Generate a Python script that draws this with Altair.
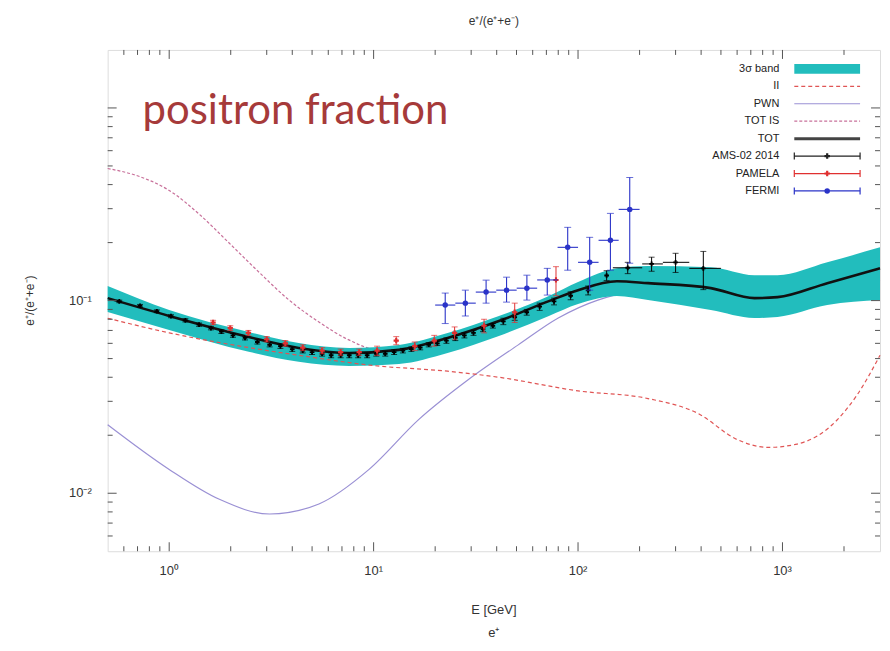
import altair as alt
import pandas as pd

# ---------------- data ----------------
band_E   = [0.5, 1, 2.45, 4.3, 7.6, 13.3, 23, 41, 72, 100, 155, 220, 446, 730, 946, 1656, 3000]
band_tot = [0.103, 0.0832, 0.0647, 0.0568, 0.0535, 0.0555, 0.0640, 0.0783, 0.0994, 0.1133, 0.126, 0.1232, 0.1161, 0.1030, 0.1042, 0.1232, 0.147]
band_hi  = [0.119, 0.0893, 0.0687, 0.0603, 0.0568, 0.0589, 0.0679, 0.0832, 0.1055, 0.1247, 0.147, 0.151, 0.149, 0.1355, 0.1355, 0.158, 0.189]
band_lo  = [0.0872, 0.0704, 0.0542, 0.0481, 0.0458, 0.0469, 0.0535, 0.0655, 0.0832, 0.0959, 0.1055, 0.1006, 0.0893, 0.0812, 0.0822, 0.0948, 0.1006]

ii_E = [0.5, 1, 2.46, 4.3, 10, 23, 41, 100, 220, 385, 600, 850, 1180, 1850, 2300, 3000]
ii_v = [0.081, 0.068, 0.057, 0.052, 0.046, 0.043, 0.040, 0.034, 0.031, 0.026, 0.019, 0.0173, 0.018, 0.024, 0.032, 0.052]

pwn_E = [0.5, 1, 1.76, 3.1, 5.4, 9.5, 16.6, 29, 51, 80, 125, 175, 250, 400, 700, 1000, 1800, 3000]
pwn_v = [0.0227, 0.0133, 0.0093, 0.0078, 0.0088, 0.0133, 0.0241, 0.0388, 0.0589, 0.0812, 0.1006, 0.110, 0.113, 0.108, 0.097, 0.097, 0.112, 0.128]

tis_E = [0.5, 0.716, 1.0, 1.405, 1.97, 2.75, 3.86, 5.4, 7.57, 10.6, 15, 23, 41, 72, 100, 155, 220, 446, 730, 946, 1656, 3000]
tis_v = [0.485, 0.4405, 0.373, 0.2803, 0.1984, 0.1404, 0.1006, 0.0774, 0.0625, 0.0555, 0.0560, 0.0640, 0.0783, 0.0994, 0.1133, 0.126, 0.1232, 0.1161, 0.1030, 0.1042, 0.1232, 0.147]

ams_E = [0.57, 0.72, 0.87, 1.02, 1.2, 1.4, 1.6, 1.8, 2.05, 2.35, 2.7, 3.1, 3.5, 4.0, 4.5,
         5.0, 5.6, 6.2, 6.9, 7.6, 8.4, 9.3, 10.3, 11.4, 12.6, 13.9, 15.3, 16.9, 18.6, 20.5,
         22.7, 25.1, 27.8, 30.8, 34.3, 38.3, 43.1, 49.0, 56.1, 64.9, 76.3, 92.0, 112, 138, 175,
         229, 300, 410]
ams_v = [0.099, 0.094, 0.088, 0.083, 0.079, 0.075, 0.072, 0.069, 0.066, 0.064, 0.061, 0.059, 0.058, 0.056, 0.055,
         0.054, 0.053, 0.052, 0.052, 0.052, 0.052, 0.052, 0.053, 0.053, 0.054, 0.055, 0.056, 0.057, 0.059, 0.060,
         0.062, 0.064, 0.066, 0.068, 0.071, 0.074, 0.078, 0.082, 0.087, 0.093, 0.099, 0.106, 0.113, 0.135, 0.148,
         0.155, 0.158, 0.147]
ams_err = [0.0015, 0.0015, 0.0015, 0.0015, 0.0015, 0.0015, 0.0015, 0.0015, 0.0015, 0.0015, 0.0015, 0.0015, 0.0015, 0.0015, 0.0015,
           0.0015, 0.0015, 0.0015, 0.0015, 0.0015, 0.0015, 0.0015, 0.0015, 0.0015, 0.0015, 0.0015, 0.0015, 0.0015, 0.0015, 0.0015,
           0.002, 0.002, 0.002, 0.002, 0.002, 0.002, 0.003, 0.003, 0.003, 0.004, 0.004, 0.005, 0.006, 0.008, 0.010,
           0.013, 0.018, 0.033]
ams_binE  = [175, 229, 300, 410]
ams_binLo = [148, 206, 260, 350]
ams_binHi = [206, 260, 350, 500]
ams_binV  = [0.148, 0.155, 0.158, 0.147]

pam_E = [1.64, 1.99, 2.44, 3.0, 3.7, 4.5, 5.6, 6.9, 8.5, 10.4, 12.9, 15.9, 19.8, 24.9, 34.7, 49.0, 78.0]
pam_v = [0.077, 0.072, 0.068, 0.063, 0.060, 0.057, 0.055, 0.054, 0.054, 0.055, 0.062, 0.058, 0.062, 0.068, 0.074, 0.087, 0.128]
pam_err = [0.002, 0.002, 0.002, 0.002, 0.002, 0.002, 0.002, 0.002, 0.002, 0.003, 0.003, 0.003, 0.004, 0.005, 0.006, 0.010, 0.022]

fermi_E   = [22.4, 28.1, 35.5, 44.7, 56.2, 70.7, 89, 114, 144, 179]
fermi_v   = [0.0948, 0.097, 0.1107, 0.1133, 0.116, 0.128, 0.189, 0.158, 0.2056, 0.2975]
fermi_lo  = [0.076, 0.0832, 0.097, 0.0982, 0.1006, 0.1068, 0.1438, 0.1133, 0.1438, 0.1563]
fermi_hi  = [0.1094, 0.1133, 0.1277, 0.1323, 0.1355, 0.147, 0.240, 0.213, 0.2836, 0.4355]
fermi_Elo = [20, 25.1, 31.6, 39.8, 50.1, 63.1, 79.4, 100, 126, 158]
fermi_Ehi = [25.1, 31.6, 39.8, 50.1, 63.1, 79.4, 100, 126, 158, 200]

x_major = [1, 10, 100, 1000]
x_labels = ["10⁰", "10¹", "10²", "10³"]
x_minor = [0.6, 0.7, 0.8, 0.9, 2, 3, 4, 5, 6, 7, 8, 9, 20, 30, 40, 50, 60, 70, 80, 90,
           200, 300, 400, 500, 600, 700, 800, 900, 2000]
y_major = [0.01, 0.1, 1]
y_label_vals = [0.01, 0.1]
y_labels = ["10⁻²", "10⁻¹"]
y_minor = [0.006, 0.007, 0.008, 0.009, 0.02, 0.03, 0.04, 0.05, 0.06, 0.07, 0.08, 0.09,
           0.2, 0.3, 0.4, 0.5, 0.6, 0.7, 0.8, 0.9]

legend_labels = ["3σ band", "II", "PWN", "TOT IS", "TOT", "AMS-02 2014", "PAMELA", "FERMI"]

# ---------------- styling ----------------
W, H = 775, 503
FONT = "Liberation Sans"
C_BAND = "#22bdbd"
C_II = "#e05555"
C_PWN = "#9a90d4"
C_TIS = "#c8709a"
C_TOT = "#111111"
C_PAM = "#e03030"
C_FERMI = "#2a33c8"
C_FRAME = "#555555"
C_TXT = "#333333"

xs = alt.Scale(type="log", domain=[0.5, 3000], nice=False)
ys = alt.Scale(type="log", domain=[0.005, 2], nice=False)


def X(f):
    return alt.X(f, type="quantitative", scale=xs, axis=None)


def Y(f):
    return alt.Y(f, type="quantitative", scale=ys, axis=None)


band_df = pd.DataFrame({"E": band_E, "tot": band_tot, "lo": band_lo, "hi": band_hi})
ii_df = pd.DataFrame({"E": ii_E, "v": ii_v})
pwn_df = pd.DataFrame({"E": pwn_E, "v": pwn_v})
tis_df = pd.DataFrame({"E": tis_E, "v": tis_v})
ams_df = pd.DataFrame({"E": ams_E, "v": ams_v, "err": ams_err})
ams_df["lo"] = ams_df["v"] - ams_df["err"]
ams_df["hi"] = ams_df["v"] + ams_df["err"]
amsbin_df = pd.DataFrame({"E": ams_binE, "v": ams_binV, "Elo": ams_binLo, "Ehi": ams_binHi})
pam_df = pd.DataFrame({"E": pam_E, "v": pam_v, "err": pam_err})
pam_df["lo"] = pam_df["v"] - pam_df["err"]
pam_df["hi"] = pam_df["v"] + pam_df["err"]
fermi_df = pd.DataFrame({"E": fermi_E, "v": fermi_v, "lo": fermi_lo, "hi": fermi_hi,
                         "Elo": fermi_Elo, "Ehi": fermi_Ehi})

band = alt.Chart(band_df).mark_area(color=C_BAND, opacity=1, interpolate="monotone").encode(
    x=X("E"), y=Y("lo"), y2="hi")

ii_line = alt.Chart(ii_df).mark_line(color=C_II, strokeWidth=1.2, strokeDash=[4, 3],
                                     interpolate="monotone").encode(x=X("E"), y=Y("v"))
pwn_line = alt.Chart(pwn_df).mark_line(color=C_PWN, strokeWidth=1.2,
                                       interpolate="monotone").encode(x=X("E"), y=Y("v"))
tis_line = alt.Chart(tis_df).mark_line(color=C_TIS, strokeWidth=1.2, strokeDash=[3, 2],
                                       interpolate="monotone").encode(x=X("E"), y=Y("v"))
tot_line = alt.Chart(band_df).mark_line(color=C_TOT, strokeWidth=2.6,
                                        interpolate="monotone").encode(x=X("E"), y=Y("tot"))

# data sets
ams_bar = alt.Chart(ams_df).mark_rule(color="black", strokeWidth=1).encode(x=X("E"), y=Y("lo"), y2="hi")
ams_cap_lo = alt.Chart(ams_df).mark_tick(color="black", orient="horizontal", size=6, thickness=1).encode(x=X("E"), y=Y("lo"))
ams_cap_hi = alt.Chart(ams_df).mark_tick(color="black", orient="horizontal", size=6, thickness=1).encode(x=X("E"), y=Y("hi"))
ams_hbar = alt.Chart(amsbin_df).mark_rule(color="black", strokeWidth=1).encode(x=X("Elo"), x2="Ehi", y=Y("v"))
ams_pt = alt.Chart(ams_df).mark_point(shape="cross", filled=True, size=22, color="black", opacity=1).encode(x=X("E"), y=Y("v"))

pam_bar = alt.Chart(pam_df).mark_rule(color=C_PAM, strokeWidth=1).encode(x=X("E"), y=Y("lo"), y2="hi")
pam_cap_lo = alt.Chart(pam_df).mark_tick(color=C_PAM, orient="horizontal", size=6, thickness=1).encode(x=X("E"), y=Y("lo"))
pam_cap_hi = alt.Chart(pam_df).mark_tick(color=C_PAM, orient="horizontal", size=6, thickness=1).encode(x=X("E"), y=Y("hi"))
pam_pt = alt.Chart(pam_df).mark_point(shape="cross", filled=True, size=28, color=C_PAM, opacity=1).encode(x=X("E"), y=Y("v"))

fer_bar = alt.Chart(fermi_df).mark_rule(color=C_FERMI, strokeWidth=1.1).encode(x=X("E"), y=Y("lo"), y2="hi")
fer_cap_lo = alt.Chart(fermi_df).mark_tick(color=C_FERMI, orient="horizontal", size=7, thickness=1).encode(x=X("E"), y=Y("lo"))
fer_cap_hi = alt.Chart(fermi_df).mark_tick(color=C_FERMI, orient="horizontal", size=7, thickness=1).encode(x=X("E"), y=Y("hi"))
fer_hbar = alt.Chart(fermi_df).mark_rule(color=C_FERMI, strokeWidth=1.1).encode(x=X("Elo"), x2="Ehi", y=Y("v"))
fer_pt = alt.Chart(fermi_df).mark_point(shape="circle", filled=True, size=30, color=C_FERMI, opacity=1).encode(x=X("E"), y=Y("v"))

# inward ticks on all four sides
xmaj_df = pd.DataFrame({"t": x_major})
xmin_df = pd.DataFrame({"t": x_minor})
ymaj_df = pd.DataFrame({"t": y_major})
ymin_df = pd.DataFrame({"t": y_minor})
MAJ, MIN = 9, 5
tick_layers = []
for df, ln in ((xmaj_df, MAJ), (xmin_df, MIN)):
    tick_layers.append(alt.Chart(df).mark_rule(color=C_FRAME, strokeWidth=1).encode(
        x=X("t"), y=alt.value(H), y2=alt.value(H - ln)))
    tick_layers.append(alt.Chart(df).mark_rule(color=C_FRAME, strokeWidth=1).encode(
        x=X("t"), y=alt.value(0), y2=alt.value(ln)))
for df, ln in ((ymaj_df, MAJ), (ymin_df, MIN)):
    tick_layers.append(alt.Chart(df).mark_rule(color=C_FRAME, strokeWidth=1).encode(
        y=Y("t"), x=alt.value(0), x2=alt.value(ln)))
    tick_layers.append(alt.Chart(df).mark_rule(color=C_FRAME, strokeWidth=1).encode(
        y=Y("t"), x=alt.value(W), x2=alt.value(W - ln)))

# tick labels placed through the scales
xlab = alt.Chart(pd.DataFrame({"t": x_major, "s": x_labels})).mark_text(
    align="center", baseline="middle", font=FONT, fontSize=13, color=C_TXT).encode(
    x=X("t"), y=alt.value(H + 20), text="s:N")
ylab = alt.Chart(pd.DataFrame({"t": y_label_vals, "s": y_labels})).mark_text(
    align="right", baseline="middle", font=FONT, fontSize=13, color=C_TXT).encode(
    y=Y("t"), x=alt.value(-16), text="s:N")

# legend (top right, gnuplot style)
LX_TEXT, LX0, LX1 = 674, 689, 755
LXM = (LX0 + LX1) / 2
legend_layers = []
for i, lab in enumerate(legend_labels):
    ry = 19 + i * 17.5
    one = pd.DataFrame({"label": [lab]})
    legend_layers.append(alt.Chart(one).mark_text(align="right", baseline="middle", font=FONT,
                                                  fontSize=11, color="#222222").encode(
        x=alt.value(LX_TEXT), y=alt.value(ry), text="label:N"))
    if lab == "3σ band":
        legend_layers.append(alt.Chart(one).mark_rect(color=C_BAND).encode(
            x=alt.value(LX0), x2=alt.value(LX1), y=alt.value(ry - 5), y2=alt.value(ry + 5)))
    elif lab == "II":
        legend_layers.append(alt.Chart(one).mark_rule(color=C_II, strokeWidth=1.2, strokeDash=[4, 3]).encode(
            x=alt.value(LX0), x2=alt.value(LX1), y=alt.value(ry)))
    elif lab == "PWN":
        legend_layers.append(alt.Chart(one).mark_rule(color=C_PWN, strokeWidth=1.2).encode(
            x=alt.value(LX0), x2=alt.value(LX1), y=alt.value(ry)))
    elif lab == "TOT IS":
        legend_layers.append(alt.Chart(one).mark_rule(color=C_TIS, strokeWidth=1.2, strokeDash=[3, 2]).encode(
            x=alt.value(LX0), x2=alt.value(LX1), y=alt.value(ry)))
    elif lab == "TOT":
        legend_layers.append(alt.Chart(one).mark_rule(color="#444444", strokeWidth=3).encode(
            x=alt.value(LX0), x2=alt.value(LX1), y=alt.value(ry)))
    else:
        col = {"AMS-02 2014": "#222222", "PAMELA": C_PAM, "FERMI": C_FERMI}[lab]
        legend_layers.append(alt.Chart(one).mark_rule(color=col, strokeWidth=1.2).encode(
            x=alt.value(LX0), x2=alt.value(LX1), y=alt.value(ry)))
        for cx in (LX0, LX1):
            legend_layers.append(alt.Chart(one).mark_rule(color=col, strokeWidth=1.2).encode(
                x=alt.value(cx), y=alt.value(ry - 3.5), y2=alt.value(ry + 3.5)))
        shape = "circle" if lab == "FERMI" else "cross"
        legend_layers.append(alt.Chart(one).mark_point(shape=shape, filled=True, size=30, color=col, opacity=1).encode(
            x=alt.value(LXM), y=alt.value(ry)))

# texts
txt = pd.DataFrame({"s": ["positron fraction"]})
annot = alt.Chart(txt).mark_text(align="left", baseline="alphabetic", font="Lato", fontSize=42,
                                 color="#a63a3a").encode(x=alt.value(35), y=alt.value(74), text="s:N")
top_title = alt.Chart(pd.DataFrame({"s": ["e⁺/(e⁺+e⁻)"]})).mark_text(
    align="center", baseline="middle", font=FONT, fontSize=12, color=C_TXT).encode(
    x=alt.value(W / 2), y=alt.value(-29), text="s:N")
y_title = alt.Chart(pd.DataFrame({"s": ["e⁺/(e⁺+e⁻)"]})).mark_text(
    align="center", baseline="middle", font=FONT, fontSize=12, color=C_TXT, angle=270).encode(
    x=alt.value(-78), y=alt.value(H / 2), text="s:N")
x_title1 = alt.Chart(pd.DataFrame({"s": ["E [GeV]"]})).mark_text(
    align="center", baseline="middle", font=FONT, fontSize=13, color=C_TXT).encode(
    x=alt.value(W / 2), y=alt.value(562), text="s:N")
x_title2 = alt.Chart(pd.DataFrame({"s": ["e⁺"]})).mark_text(
    align="center", baseline="middle", font=FONT, fontSize=13, color=C_TXT).encode(
    x=alt.value(W / 2), y=alt.value(585), text="s:N")

layers = [pwn_line, tis_line, band, ii_line, tot_line,
          ams_bar, ams_cap_lo, ams_cap_hi, ams_hbar, ams_pt,
          pam_bar, pam_cap_lo, pam_cap_hi, pam_pt,
          fer_bar, fer_cap_lo, fer_cap_hi, fer_hbar, fer_pt,
          annot, top_title, y_title, x_title1, x_title2, xlab, ylab] + tick_layers + legend_layers

chart = alt.layer(*layers).properties(
    width=W, height=H,
    autosize=alt.AutoSizeParams(type="none"),
    padding={"left": 100, "top": 41, "right": 2, "bottom": 95},
).configure_view(stroke=C_FRAME, strokeWidth=1.3).configure(background="white")

chart.save("out.html", embed_options={"renderer": "svg", "actions": False})
